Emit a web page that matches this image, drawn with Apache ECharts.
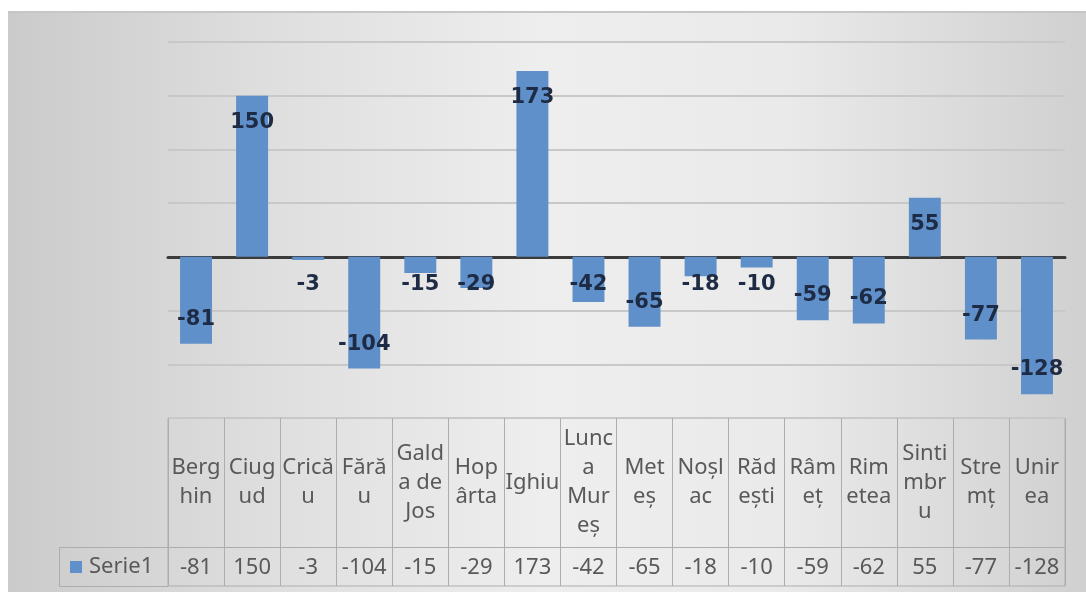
<!DOCTYPE html>
<html>
<head>
<meta charset="utf-8">
<script src="https://cdn.jsdelivr.net/npm/echarts@6/dist/echarts.min.js"></script>
<style>
  html, body { margin: 0; padding: 0; background: #ffffff; }
  #chart { width: 1086px; height: 595px; }
</style>
</head>
<body>
<div id="chart"></div>
<script>
// Population change per locality
const seriesName = 'Serie1';
const categories = ['Berghin', 'Ciugud', 'Cricău', 'Fărău', 'Galda de Jos', 'Hopârta', 'Ighiu', 'Lunca Mureș',
                    'Meteș', 'Noșlac', 'Rădești', 'Râmeț', 'Rimetea', 'Sintimbru', 'Stremț', 'Unirea'];
// Column headings as wrapped in the data table
const headerLabels = ['Berg\nhin', 'Ciug\nud', 'Crică\nu', 'Fără\nu', 'Gald\na de\nJos', 'Hop\nârta', 'Ighiu', 'Lunc\na\nMur\neș',
                      'Met\neș', 'Noșl\nac', 'Răd\nești', 'Râm\neț', 'Rim\netea', 'Sinti\nmbr\nu', 'Stre\nmț', 'Unir\nea'];
const values = [-81, 150, -3, -104, -15, -29, 173, -42, -65, -18, -10, -59, -62, 55, -77, -128];
const yTicks = { min: -150, max: 200, interval: 50 };

const barColor = '#6090c9';
const textGray = '#595959';
const borderGray = '#adadad';
const tableFont = '22px "Noto Sans"';

// Label placement: inside the bar end; short negative bars keep the label just under the axis
function labelFor(v) {
  if (v >= 0) return { position: 'insideTop', distance: 16 };
  if (v <= -50) return { position: 'insideBottom', distance: 14 };
  return { position: 'insideTop', distance: 17 };
}

const barData = values.map(v => ({ value: v, label: labelFor(v) }));

const chart = echarts.init(document.getElementById('chart'), null, { renderer: 'canvas' });

chart.setOption({
  backgroundColor: '#ffffff',
  animation: false,
  graphic: [
    {
      type: 'rect', z: -100, silent: true,
      shape: { x: 8, y: 11, width: 1078, height: 581 },
      style: {
        fill: new echarts.graphic.LinearGradient(0, 0, 1, 0, [
          { offset: 0, color: '#cbcbcb' },
          { offset: 0.25, color: '#dfdfdf' },
          { offset: 0.5, color: '#eeeeee' },
          { offset: 0.72, color: '#eaeaea' },
          { offset: 1, color: '#d0d0d0' }
        ])
      }
    },
    {
      type: 'line', z: -99, silent: true,
      shape: { x1: 8, y1: 12, x2: 1086, y2: 12 },
      style: { stroke: '#c6c6c6', lineWidth: 2 }
    },
    {
      // border of the legend cell in the data table
      type: 'polyline', z: 10, silent: true,
      shape: { points: [[168, 547.5], [59.5, 547.5], [59.5, 586.5], [168, 586.5]] },
      style: { stroke: borderGray, lineWidth: 1, fill: null }
    }
  ],
  legend: {
    data: [seriesName],
    left: 70, top: 556, padding: 0,
    itemWidth: 12, itemHeight: 12, icon: 'rect',
    textStyle: { color: textGray, fontFamily: 'Noto Sans', fontSize: 22, padding: [0, 0, 0, 2] },
    selectedMode: false
  },
  grid: [
    { left: 168, right: 21, top: 42, height: 376 },
    { left: 168, right: 21, top: 418, height: 168, show: true, borderColor: borderGray, borderWidth: 1, backgroundColor: 'transparent' }
  ],
  xAxis: [
    {
      type: 'category', gridIndex: 0, data: categories,
      axisLine: { onZero: true, lineStyle: { color: '#3b3b3b', width: 3 } },
      axisTick: { show: false }, axisLabel: { show: false }, splitLine: { show: false }
    },
    {
      type: 'category', gridIndex: 1, data: categories,
      axisLine: { show: false }, axisTick: { show: false, interval: 0 },
      axisLabel: { show: false, interval: 0 },
      splitLine: { show: true, interval: 0, lineStyle: { color: borderGray, width: 1 } }
    }
  ],
  yAxis: [
    {
      type: 'value', gridIndex: 0, min: yTicks.min, max: yTicks.max, interval: yTicks.interval,
      axisLine: { show: false }, axisTick: { show: false }, axisLabel: { show: false },
      splitLine: { show: true, lineStyle: { color: '#c8c8c8', width: 2 } }
    },
    {
      // table rows: 0–39 value row, 39–168 heading row
      type: 'value', gridIndex: 1, min: 0, max: 168,
      axisLine: { show: false }, axisTick: { show: false }, axisLabel: { show: false },
      splitLine: { show: false }
    }
  ],
  series: [
    {
      name: seriesName, type: 'bar', xAxisIndex: 0, yAxisIndex: 0,
      data: barData, barCategoryGap: '43%',
      itemStyle: { color: barColor },
      label: {
        show: true, color: '#1e2b45',
        fontFamily: 'DejaVu Sans', fontWeight: 'bold', fontSize: 21
      }
    },
    {
      type: 'custom', xAxisIndex: 1, yAxisIndex: 1, silent: true,
      data: categories.map((c, i) => [i]),
      encode: { x: 0 },
      renderItem: function (params, api) {
        const i = api.value(0);
        const head = api.coord([i, 103.5]);
        const val = api.coord([i, 19.5]);
        return {
          type: 'group',
          children: [
            {
              type: 'text',
              style: {
                text: headerLabels[i], x: head[0], y: head[1],
                align: 'center', verticalAlign: 'middle',
                fill: textGray, font: tableFont, lineHeight: 29
              }
            },
            {
              type: 'text',
              style: {
                text: String(values[i]), x: val[0], y: val[1] + 1,
                align: 'center', verticalAlign: 'middle',
                fill: textGray, font: tableFont
              }
            }
          ]
        };
      },
      markLine: {
        silent: true, symbol: 'none', label: { show: false },
        lineStyle: { color: borderGray, width: 1, type: 'solid' },
        data: [{ yAxis: 39 }]
      }
    }
  ]
});
</script>
</body>
</html>
